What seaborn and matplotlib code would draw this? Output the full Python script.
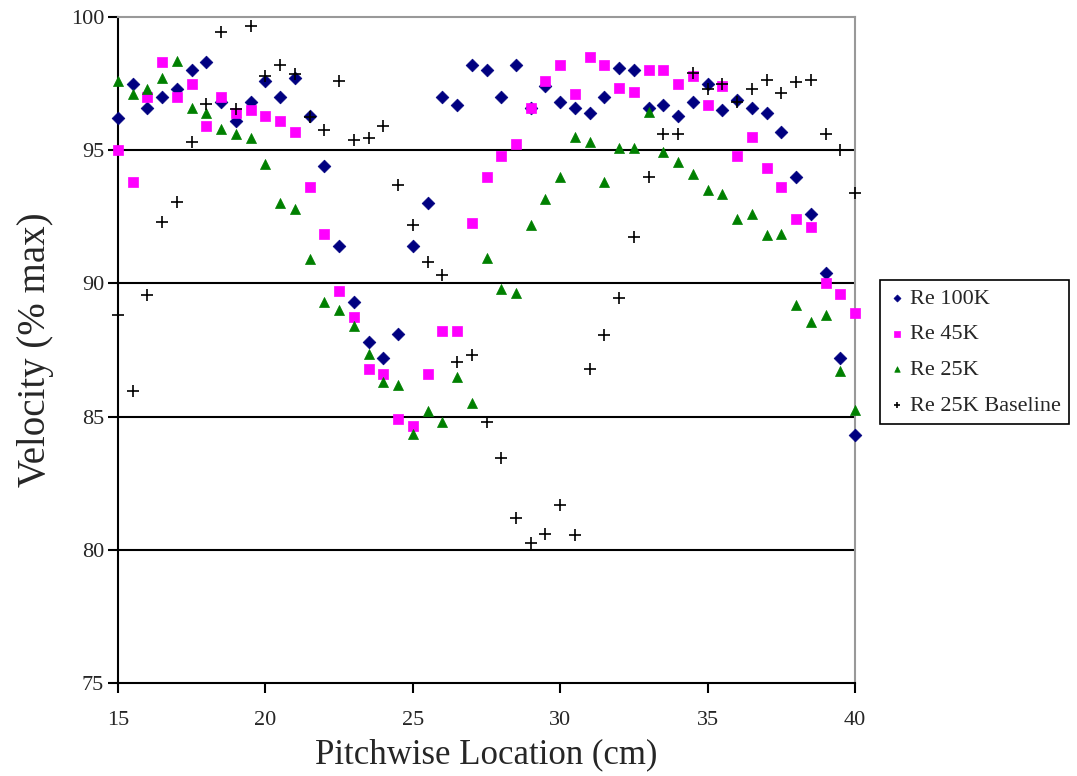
import matplotlib
matplotlib.use('Agg')
import matplotlib.pyplot as plt
import seaborn as sb
import pandas as pd

# pitchwise positions (cm)
location = [15, 15.5, 16, 16.5, 17, 17.5, 18, 18.5, 19, 19.5, 20, 20.5, 21, 21.5, 22, 22.5,
            23, 23.5, 24, 24.5, 25, 25.5, 26, 26.5, 27, 27.5, 28, 28.5, 29, 29.5, 30, 30.5,
            31, 31.5, 32, 32.5, 33, 33.5, 34, 34.5, 35, 35.5, 36, 36.5, 37, 37.5, 38, 38.5,
            39, 39.5, 40]

re_100k = [96.2, 97.5, 96.6, 97.0, 97.3, 98.0, 98.3, 96.8, 96.1, 96.8, 97.6, 97.0, 97.7, 96.3,
           94.4, 91.4, 89.3, 87.8, 87.2, 88.1, 91.4, 93.0, 97.0, 96.7, 98.2, 98.0, 97.0, 98.2,
           96.6, 97.4, 96.8, 96.6, 96.4, 97.0, 98.1, 98.0, 96.6, 96.7, 96.3, 96.8, 97.5, 96.5,
           96.9, 96.6, 96.4, 95.7, 94.0, 92.6, 90.4, 87.2, 84.3]

re_45k = [95.0, 93.8, 97.0, 98.3, 97.0, 97.5, 95.9, 97.0, 96.4, 96.5, 96.3, 96.1, 95.7, 93.6,
          91.85, 89.7, 88.75, 86.8, 86.6, 84.9, 84.65, 86.6, 88.2, 88.2, 92.25, 94.0, 94.8, 95.25,
          96.6, 97.6, 98.2, 97.1, 98.5, 98.2, 97.35, 97.2, 98.0, 98.0, 97.5, 97.8, 96.7, 97.4,
          94.8, 95.5, 94.35, 93.6, 92.4, 92.1, 90.0, 89.6, 88.9]

re_25k = [97.6, 97.1, 97.3, 97.7, 98.35, 96.6, 96.4, 95.8, 95.6, 95.45, 94.5, 93.0, 92.8, 90.9,
          89.3, 89.0, 88.4, 87.35, 86.3, 86.2, 84.35, 85.2, 84.8, 86.5, 85.5, 90.95, 89.8, 89.65,
          92.2, 93.15, 94.0, 95.5, 95.3, 93.8, 95.1, 95.1, 96.45, 94.95, 94.55, 94.1, 93.5, 93.35,
          92.4, 92.6, 91.8, 91.85, 89.2, 88.55, 88.8, 86.7, 85.25]

re_25k_base = [88.8, 85.95, 89.55, 92.3, 93.05, 95.3, 96.75, 99.45, 96.55, 99.65, 97.8, 98.2, 97.85,
               96.25, 95.75, 97.6, 95.4, 95.45, 95.9, 93.7, 92.2, 90.8, 90.3, 87.05, 87.3, 84.8,
               83.45, 81.2, 80.25, 80.6, 81.7, 80.55, 86.8, 88.05, 89.45, 91.75, 94.0, 95.6, 95.6,
               97.9, 97.3, 97.5, 96.8, 97.3, 97.65, 97.15, 97.55, 97.65, 95.6, 95.0, 93.4]

df = pd.DataFrame({'Location': location, 'Re 100K': re_100k, 'Re 45K': re_45k,
                   'Re 25K': re_25k, 'Re 25K Baseline': re_25k_base})

sb.set_style('white')
plt.rcParams['font.family'] = ['Liberation Serif', 'DejaVu Serif']

fig = plt.figure(figsize=(10.77, 7.76), dpi=100)
ax = fig.add_axes([118 / 1077, 1 - 683 / 776, (855 - 118) / 1077, (683 - 17) / 776])

# series styles: marker, colour, size
styles = [('Re 100K', 'D', '#000080', 42),
          ('Re 45K', 's', '#FF00FF', 58),
          ('Re 25K', '^', '#008000', 52),
          ('Re 25K Baseline', '+', 'black', 75)]

for name, marker, color, size in styles:
    if marker == '+':
        sb.scatterplot(data=df, x='Location', y=name, ax=ax, marker=marker, color=color,
                       s=size, linewidth=1.2, label=name, clip_on=False, zorder=3)
    else:
        sb.scatterplot(data=df, x='Location', y=name, ax=ax, marker=marker, color=color,
                       s=size, edgecolor=color, linewidth=0.5, label=name, clip_on=False,
                       zorder=3)

ax.set_xlim(15, 40)
ax.set_ylim(75, 100)
ax.set_xticks([15, 20, 25, 30, 35, 40])
ax.set_yticks([75, 80, 85, 90, 95, 100])

# horizontal gridlines like Excel
for v in [80, 85, 90, 95]:
    ax.axhline(v, color='black', linewidth=1.5, zorder=0)

ax.spines['left'].set_color('black')
ax.spines['left'].set_linewidth(1.5)
ax.spines['bottom'].set_color('black')
ax.spines['bottom'].set_linewidth(1.5)
ax.spines['top'].set_color('#999999')
ax.spines['top'].set_linewidth(1.5)
ax.spines['right'].set_color('#999999')
ax.spines['right'].set_linewidth(1.5)

ax.tick_params(axis='both', direction='out', length=7, width=1.5, color='black',
               labelsize=16, left=True, bottom=True)
ax.tick_params(axis='x', pad=13)
ax.tick_params(axis='y', pad=3)

ax.set_xlabel('Pitchwise Location (cm)', fontsize=25, labelpad=6)
ax.set_ylabel('Velocity (% max)', fontsize=28, labelpad=12)

leg = ax.legend(loc='center left', bbox_to_anchor=(880 / 1077, 1 - 352 / 776),
                bbox_transform=fig.transFigure, fontsize=16, frameon=True, fancybox=False,
                edgecolor='black', framealpha=1, markerscale=0.55, handletextpad=0.2,
                handlelength=0.8, borderpad=0.35, labelspacing=0.68, borderaxespad=0)
leg.get_frame().set_linewidth(1.2)

fig.savefig('out.png', dpi=100)
